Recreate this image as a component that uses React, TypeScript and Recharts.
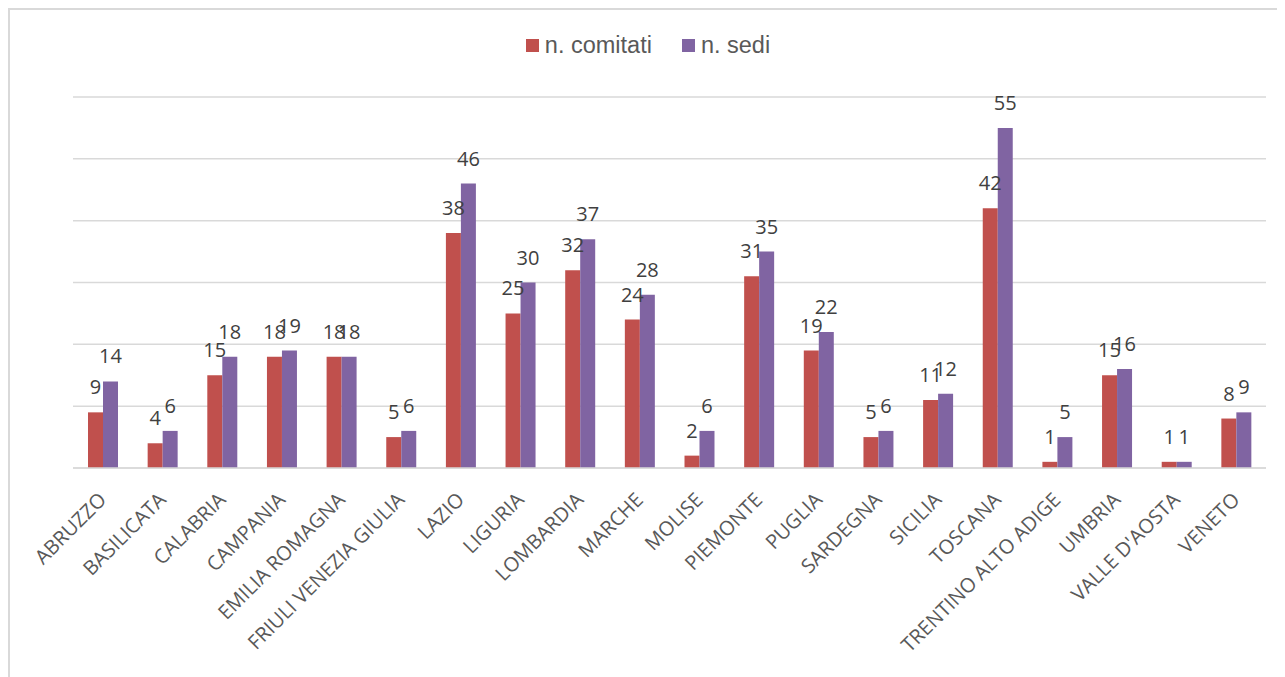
import React from 'react';
import {
  BarChart,
  Bar,
  XAxis,
  YAxis,
  CartesianGrid,
  LabelList,
} from 'recharts';

const regions = [
  'ABRUZZO',
  'BASILICATA',
  'CALABRIA',
  'CAMPANIA',
  'EMILIA ROMAGNA',
  'FRIULI VENEZIA GIULIA',
  'LAZIO',
  'LIGURIA',
  'LOMBARDIA',
  'MARCHE',
  'MOLISE',
  'PIEMONTE',
  'PUGLIA',
  'SARDEGNA',
  'SICILIA',
  'TOSCANA',
  'TRENTINO ALTO ADIGE',
  'UMBRIA',
  "VALLE D'AOSTA",
  'VENETO',
];

const comitati = [9, 4, 15, 18, 18, 5, 38, 25, 32, 24, 2, 31, 19, 5, 11, 42, 1, 15, 1, 8];
const sedi = [14, 6, 18, 19, 18, 6, 46, 30, 37, 28, 6, 35, 22, 6, 12, 55, 5, 16, 1, 9];

const yTicks = [0, 10, 20, 30, 40, 50, 60];

const RED = '#C0504D';
const PURPLE = '#8064A2';

const data = regions.map((r, i) => ({
  region: r,
  comitati: comitati[i],
  sedi: sedi[i],
}));

function RotatedTick({ x, y, payload }: any) {
  return (
    <g transform={`translate(${x + 4},${y + 6}) rotate(-45)`}>
      <text
        x={0}
        y={0}
        dx={-13}
        dy={14}
        textAnchor="end"
        fill="#595959"
        fontSize={20}
        fontFamily="'Open Sans', sans-serif"
      >
        {payload.value}
      </text>
    </g>
  );
}

function TopLegend() {
  const items = [
    { label: 'n. comitati', color: RED },
    { label: 'n. sedi', color: PURPLE },
  ];
  return (
    <div
      style={{
        position: 'absolute',
        top: 22,
        left: 0,
        width: '100%',
        display: 'flex',
        justifyContent: 'center',
        gap: 30,
        fontFamily: "'Liberation Sans', Arial, sans-serif",
        fontSize: 23.5,
        color: '#595959',
        paddingRight: 10,
        boxSizing: 'border-box',
      }}
    >
      {items.map((it) => (
        <div key={it.label} style={{ display: 'flex', alignItems: 'center' }}>
          <span
            style={{
              display: 'inline-block',
              width: 13,
              height: 13,
              background: it.color,
              marginRight: 6,
            }}
          />
          {it.label}
        </div>
      ))}
    </div>
  );
}

const labelProps = {
  position: 'top' as const,
  offset: 18,
  fill: '#404040',
  fontSize: 20,
  fontFamily: "'Open Sans', sans-serif",
};

export default function App() {
  return (
    <div
      style={{
        position: 'relative',
        width: 1290,
        height: 680,
        border: '2px solid #d9d9d9',
        boxSizing: 'border-box',
        background: '#fff',
      }}
    >
      <TopLegend />
      <BarChart
        width={1280}
        height={660}
        data={data}
        margin={{ top: 87, right: 24, left: 63, bottom: 12 }}
        barGap={0}
      >
        <CartesianGrid vertical={false} stroke="#d9d9d9" strokeWidth={1.5} />
        <XAxis
          dataKey="region"
          interval={0}
          tickLine={false}
          axisLine={{ stroke: '#d9d9d9', strokeWidth: 1.5 }}
          tick={<RotatedTick />}
          height={190}
        />
        <YAxis hide domain={[0, 60]} ticks={yTicks} />
        <Bar dataKey="comitati" name="n. comitati" fill={RED} barSize={15} isAnimationActive={false}>
          <LabelList dataKey="comitati" {...labelProps} />
        </Bar>
        <Bar dataKey="sedi" name="n. sedi" fill={PURPLE} barSize={15} isAnimationActive={false}>
          <LabelList dataKey="sedi" {...labelProps} />
        </Bar>
      </BarChart>
    </div>
  );
}
